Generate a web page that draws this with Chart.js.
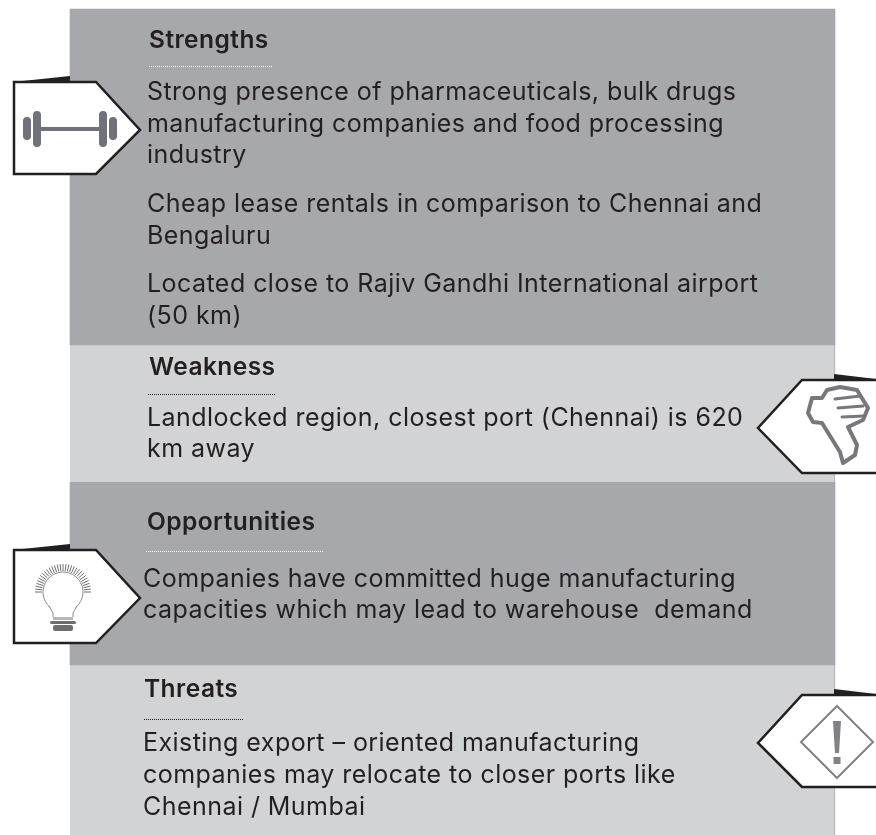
<!DOCTYPE html>
<html>
<head>
<meta charset="utf-8">
<title>SWOT</title>
<script src="https://cdn.jsdelivr.net/npm/chart.js@4"></script>
<style>
  html, body { margin: 0; padding: 0; background: #fff; }
  canvas { display: block; }
</style>
</head>
<body>
<canvas id="chartSwot" width="876" height="835"></canvas>
<script>
const sections = ['Strengths', 'Weakness', 'Opportunities', 'Threats'];
const panelHeights = [336, 137, 183, 170];
const strengthLines = [
  'Strong presence of pharmaceuticals, bulk drugs',
  'manufacturing companies and food processing',
  'industry',
  'Cheap lease rentals in comparison to Chennai and',
  'Bengaluru',
  'Located close to Rajiv Gandhi International airport',
  '(50 km)'
];
const weaknessLines = [
  'Landlocked region, closest port (Chennai) is 620',
  'km away'
];
const opportunityLines = [
  'Companies have committed huge manufacturing',
  'capacities which may lead to warehouse  demand'
];
const threatLines = [
  'Existing export \u2013 oriented manufacturing',
  'companies may relocate to closer ports like',
  'Chennai / Mumbai'
];

const INK = '#231f20';
const ICON = '#6d6e71';
const DARK_PANEL = '#a7a8ac';
const LIGHT_PANEL = '#d1d3d4';
const FAMILY = 'Inter, sans-serif';

function poly(ctx, pts) {
  ctx.beginPath();
  pts.forEach((p, i) => i ? ctx.lineTo(p[0], p[1]) : ctx.moveTo(p[0], p[1]));
}

function tag(ctx, top, mid, bottom, left) {
  // wedge shadow on top of the tag, then the white arrow
  ctx.fillStyle = INK;
  if (left) poly(ctx, [[13, top], [70, top - 6], [70, top]]);
  else poly(ctx, [[834, top - 6], [876, top - 1], [876, top], [834, top]]);
  ctx.closePath();
  ctx.fill();
  ctx.fillStyle = '#fff';
  ctx.strokeStyle = INK;
  ctx.lineWidth = 2.5;
  ctx.lineJoin = 'miter';
  if (left) poly(ctx, [[14, top], [96, top], [140, mid], [96, bottom], [14, bottom]]);
  else poly(ctx, [[878, top], [802, top], [758, mid], [802, bottom], [878, bottom]]);
  ctx.closePath();
  ctx.fill();
  ctx.stroke();
}

function rr(ctx, x, y, w, h, r) {
  ctx.beginPath();
  ctx.roundRect(x, y, w, h, r);
  ctx.fill();
}

function barbell(ctx) {
  ctx.fillStyle = '#70727a';
  ctx.fillRect(40, 127, 60, 4);
  rr(ctx, 23, 117, 8, 23, 4);
  rr(ctx, 33, 111, 8, 36, 4);
  rr(ctx, 99, 111, 8, 36, 4);
  rr(ctx, 109, 117, 8, 23, 4);
}

function thumb(ctx) {
  ctx.strokeStyle = '#77787b';
  ctx.lineWidth = 4;
  ctx.lineJoin = 'round';
  ctx.lineCap = 'round';
  poly(ctx, [[812, 398], [808, 413], [813, 422], [822, 423], [840, 452], [843, 463], [855, 455], [857, 445], [848, 427], [863, 420], [868, 408], [857, 390], [840, 387], [827, 390], [822, 398]]);
  ctx.closePath();
  ctx.stroke();
  ctx.lineWidth = 3;
  [[835, 399, 860, 396], [838, 408, 863, 406], [842, 417, 864, 416]].forEach(l => {
    poly(ctx, [[l[0], l[1]], [l[2], l[3]]]);
    ctx.stroke();
  });
  ctx.lineCap = 'butt';
}

function bulb(ctx) {
  const cx = 63, cy = 592;
  ctx.strokeStyle = ICON;
  ctx.lineWidth = 1;
  for (let a = 180; a <= 360; a += 6) {
    const r = a * Math.PI / 180;
    poly(ctx, [[cx + 21 * Math.cos(r), cy + 21 * Math.sin(r)], [cx + 28 * Math.cos(r), cy + 28 * Math.sin(r)]]);
    ctx.stroke();
  }
  ctx.strokeStyle = '#8a8c8e';
  ctx.beginPath();
  ctx.arc(cx, cy, 20, Math.PI * 0.72, Math.PI * 0.28);
  ctx.moveTo(cx - 14, cy + 14);
  ctx.lineTo(cx - 10, cy + 21);
  ctx.lineTo(cx - 10, cy + 25);
  ctx.moveTo(cx + 14, cy + 14);
  ctx.lineTo(cx + 10, cy + 21);
  ctx.lineTo(cx + 10, cy + 25);
  ctx.stroke();
  ctx.fillStyle = '#b5b6b8';
  ctx.fillRect(cx - 10, cy + 25, 20, 3);
  ctx.fillStyle = ICON;
  rr(ctx, cx - 13, cy + 29, 26, 3, 1.5);
  rr(ctx, cx - 10, cy + 33, 20, 6, 2);
}

function warning(ctx) {
  const cx = 837, cy = 742;
  ctx.strokeStyle = '#808285';
  ctx.lineWidth = 2;
  poly(ctx, [[cx, cy - 36], [cx + 36, cy], [cx, cy + 36], [cx - 36, cy]]);
  ctx.closePath();
  ctx.stroke();
  ctx.fillStyle = '#808285';
  poly(ctx, [[cx - 4, cy - 21], [cx + 4, cy - 21], [cx + 2, cy + 11], [cx - 2, cy + 11]]);
  ctx.closePath();
  ctx.fill();
  ctx.fillRect(cx - 3.5, cy + 15, 7, 7);
}

function rule(ctx, x0, x1, y, color) {
  ctx.strokeStyle = color;
  ctx.lineWidth = 1;
  ctx.setLineDash([1, 1]);
  poly(ctx, [[x0, y + 0.5], [x1, y + 0.5]]);
  ctx.stroke();
  ctx.setLineDash([]);
}

function textBlock(ctx, lines, x, baselines) {
  ctx.font = '400 25px ' + FAMILY;
  ctx.letterSpacing = '0.45px';
  ctx.fillStyle = INK;
  lines.forEach((t, i) => ctx.fillText(t, x, baselines[i]));
}

function heading(ctx, t, x, y) {
  ctx.font = '600 24.5px ' + FAMILY;
  ctx.letterSpacing = '0.45px';
  ctx.fillStyle = INK;
  ctx.fillText(t, x, y);
}

const swotDecor = {
  id: 'swotDecor',
  afterDatasetsDraw(chart) {
    const ctx = chart.ctx;
    ctx.save();
    ctx.textBaseline = 'alphabetic';

    heading(ctx, sections[0], 149, 48);
    rule(ctx, 149, 273, 66, '#ffffff');
    textBlock(ctx, strengthLines, 147, [100, 132, 163, 212, 244, 292, 324]);

    heading(ctx, sections[1], 149, 375);
    rule(ctx, 148, 275, 394, '#231f20');
    textBlock(ctx, weaknessLines, 147, [426, 457]);

    heading(ctx, sections[2], 147, 530);
    rule(ctx, 146, 324, 551, '#ffffff');
    textBlock(ctx, opportunityLines, 143, [587, 618]);

    heading(ctx, sections[3], 144, 697);
    rule(ctx, 144, 243, 719, '#231f20');
    textBlock(ctx, threatLines, 143, [751, 783, 815]);

    tag(ctx, 82, 130, 174, true);
    barbell(ctx);
    tag(ctx, 380, 428, 473, false);
    thumb(ctx);
    tag(ctx, 550, 598, 643, true);
    bulb(ctx);
    tag(ctx, 695, 743, 787, false);
    warning(ctx);
    ctx.restore();
  }
};

new Chart(document.getElementById('chartSwot').getContext('2d'), {
  type: 'bar',
  data: {
    labels: ['SWOT'],
    datasets: sections.map((name, i) => ({
      label: name,
      data: [panelHeights[i]],
      backgroundColor: i % 2 ? LIGHT_PANEL : DARK_PANEL,
      borderColor: DARK_PANEL,
      borderWidth: i % 2 ? { right: 1 } : 0,
      borderSkipped: false,
      barThickness: 765
    }))
  },
  options: {
    responsive: false,
    animation: false,
    layout: { padding: { left: 29 } },
    plugins: { legend: { display: false }, tooltip: { enabled: false } },
    scales: {
      x: { stacked: true, display: false },
      y: { stacked: true, display: false, reverse: true, min: -9, max: 826 }
    }
  },
  plugins: [swotDecor]
});
</script>
</body>
</html>
